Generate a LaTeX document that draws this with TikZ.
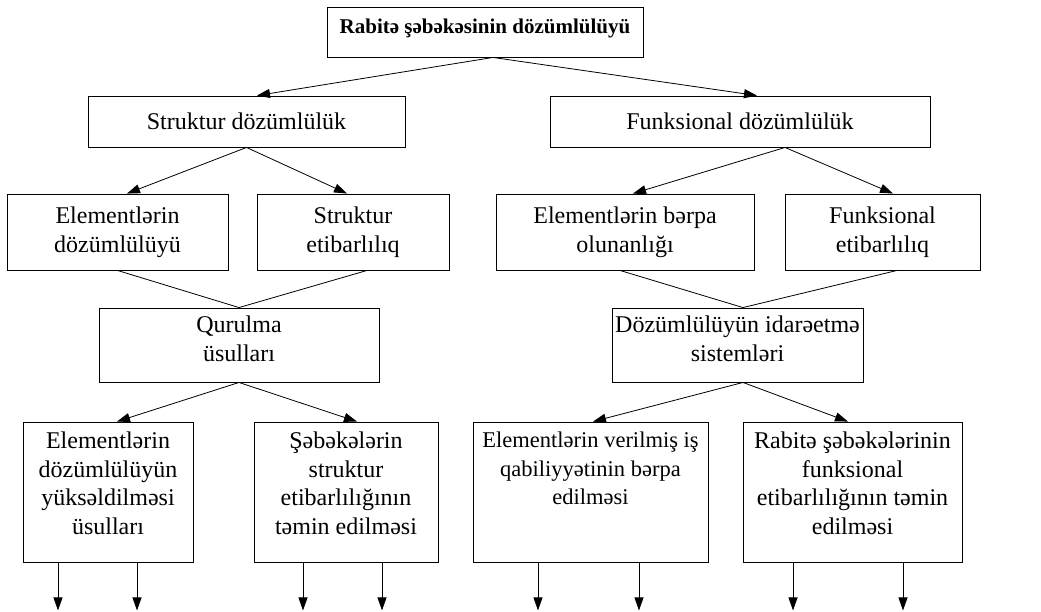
\documentclass[tikz,border=0pt]{standalone}
\usepackage{fontspec}
\setmainfont{Liberation Serif}
\usepackage{tikz}
\usetikzlibrary{arrows.meta}

\tikzset{
    blk/.style={draw, line width=0.9pt, inner sep=0pt, align=center,
        font=\fontsize{24}{29}\selectfont},
    txt/.style={anchor=north, align=center, inner sep=0pt, yshift=-#1,
        font=\fontsize{24}{28.5}\selectfont},
    txt/.default=10pt,
}

\begin{document}
\begin{tikzpicture}[x=1pt, y=-1pt, line width=0.8pt, >={Triangle[length=13pt,width=9pt]}]
            \useasboundingbox (0,0) rectangle (1041,611);
            % top
            \node[blk, minimum width=316pt, minimum height=50pt,
                label={[txt=12pt, font=\fontsize{21}{24}\selectfont\bfseries]north:Rabitə şəbəkəsinin dözümlülüyü}] (top) at (485,32) {};
            % level 1
            \node[blk, minimum width=317pt, minimum height=51pt] (struk) at (246.5,121.5) {Struktur dözümlülük};
            \node[blk, minimum width=380pt, minimum height=51pt] (funk) at (740,121.5) {Funksional dözümlülük};
            % level 2
            \node[blk, minimum width=221pt, minimum height=76pt] (elem) at (117.5,232) {Elementlərin\\dözümlülüyü};
            \node[blk, minimum width=192pt, minimum height=76pt] (setib) at (353,232) {Struktur\\etibarlılıq};
            \node[blk, minimum width=258pt, minimum height=76pt] (berpa) at (625,232) {Elementlərin bərpa\\olunanlığı};
            \node[blk, minimum width=195pt, minimum height=76pt] (fetib) at (882.5,232) {Funksional\\etibarlılıq};
            % level 3
            \node[blk, minimum width=280pt, minimum height=74pt,
                label={[txt=8pt]north:Qurulma\\üsulları}] (qur) at (239,345) {};
            \node[blk, minimum width=251pt, minimum height=74pt,
                label={[txt=8pt]north:Dözümlülüyün idarəetmə\\sistemləri}] (idare) at (737.5,345) {};
            % level 4
            \node[blk, minimum width=170pt, minimum height=140pt,
                label={[txt]north:Elementlərin\\dözümlülüyün\\yüksəldilməsi\\üsulları}] (yuks) at (108,492) {};
            \node[blk, minimum width=184pt, minimum height=140pt,
                label={[txt]north:Şəbəkələrin\\struktur\\etibarlılığının\\təmin edilməsi}] (temin) at (346,492) {};
            \node[blk, minimum width=235pt, minimum height=140pt,
                label={[txt, font=\fontsize{22.5}{28.5}\selectfont]north:Elementlərin verilmiş iş\\qabiliyyətinin bərpa\\edilməsi}] (isq) at (590.5,492) {};
            \node[blk, minimum width=219pt, minimum height=140pt,
                label={[txt]north:Rabitə şəbəkələrinin\\funksional\\etibarlılığının təmin\\edilməsi}] (rfunk) at (852.5,492) {};

            \draw[->] ([xshift=8pt]top.south) -- ([xshift=10.5pt]struk.north);
            \draw[->] ([xshift=8pt]top.south) -- ([xshift=17pt]funk.north);
            \draw[->] (struk.south) -- ([xshift=9.5pt]elem.north);
            \draw[->] (struk.south) -- ([xshift=-6pt]setib.north);
            \draw[->] ([xshift=45pt]funk.south) -- ([xshift=8pt]berpa.north);
            \draw[->] ([xshift=45pt]funk.south) -- ([xshift=10.5pt]fetib.north);
            \draw (elem.south) -- (qur.north);
            \draw ([xshift=14pt]setib.south) -- (qur.north);
            \draw ([xshift=-5pt]berpa.south) -- ([xshift=5.5pt]idare.north);
            \draw ([xshift=14.5pt]fetib.south) -- ([xshift=5.5pt]idare.north);
            \draw[->] (qur.south) -- ([xshift=9pt]yuks.north);
            \draw[->] (qur.south) -- ([xshift=11pt]temin.north);
            \draw[->] ([xshift=5.5pt]idare.south) -- ([xshift=2.5pt]isq.north);
            \draw[->] ([xshift=5.5pt]idare.south) -- ([xshift=-4.5pt]rfunk.north);

            \foreach \n/\a/\b in {yuks/-50/29, temin/-43/36, isq/-52.5/48.5, rfunk/-59.5/50.5} {
                \draw[->] ([xshift=\a pt]\n.south) -- ++(0,48);
                \draw[->] ([xshift=\b pt]\n.south) -- ++(0,48);
            }
        \end{tikzpicture}
\end{document}
